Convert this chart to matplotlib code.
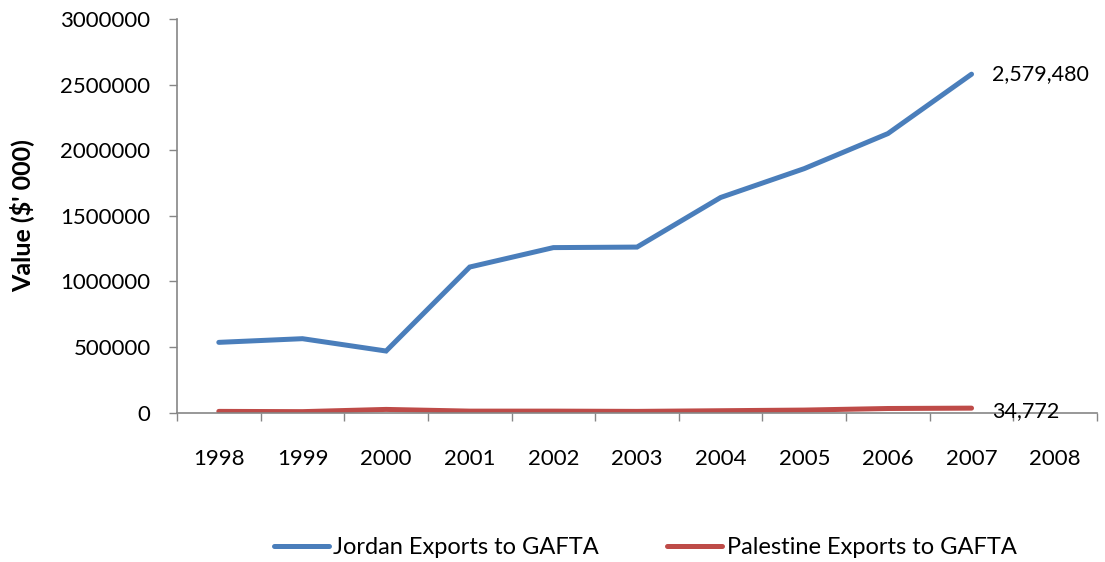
import matplotlib
matplotlib.use("Agg")
import matplotlib.pyplot as plt
import numpy as np

years = ["1998", "1999", "2000", "2001", "2002", "2003", "2004", "2005", "2006", "2007", "2008"]
jordan = [536000, 564000, 470000, 1110000, 1258000, 1262000, 1640000, 1860000, 2127000, 2579480]
palestine = [10000, 8000, 25000, 12000, 12000, 10000, 15000, 20000, 32000, 34772]
jordan_label = "Jordan Exports to GAFTA"
palestine_label = "Palestine Exports to GAFTA"
y_ticks = [0, 500000, 1000000, 1500000, 2000000, 2500000, 3000000]

plt.rcParams['font.family'] = ['Lato', 'DejaVu Sans']

fig = plt.figure(figsize=(11.05, 5.62), dpi=100)
ax = fig.add_axes([177/1105, 1 - 412.7/562, 920/1105, (412.7 - 19)/562])

axis_color = "#868686"
blue = "#4A7EBB"
red = "#BE4B48"

x_j = np.arange(len(jordan))
x_p = np.arange(len(palestine))
l1, = ax.plot(x_j, jordan, color=blue, lw=3.6, solid_capstyle='round', solid_joinstyle='miter', label=jordan_label)
l2, = ax.plot(x_p, palestine, color=red, lw=3.6, solid_capstyle='round', solid_joinstyle='miter', label=palestine_label)

ax.set_xlim(-0.5, len(years) - 0.5)
ax.set_ylim(0, 3000000)

ax.set_xticks(np.arange(len(years)))
ax.set_xticklabels(years, fontsize=16)
ax.set_xticks(np.arange(len(years) + 1) - 0.5, minor=True)
ax.tick_params(axis='x', which='major', length=0, pad=26)
ax.tick_params(axis='x', which='minor', length=6, width=1, color=axis_color, direction='out')

ax.set_yticks(y_ticks)
ax.set_yticklabels([str(v) for v in y_ticks], fontsize=16)
ax.tick_params(axis='y', length=6, width=1, color=axis_color, pad=13)

for s in ['top', 'right']:
    ax.spines[s].set_visible(False)
for s in ['left', 'bottom']:
    ax.spines[s].set_color(axis_color)
    ax.spines[s].set_linewidth(1.2)

ax.set_ylabel("Value ($' 000)", fontsize=18, fontweight='bold')
ax.yaxis.set_label_coords(-0.1555, 0.5)

ax.annotate(f"{jordan[-1]:,}", xy=(x_j[-1], jordan[-1]), xytext=(15, 0),
            textcoords='offset points', va='center', ha='left', fontsize=15.5)
ax.annotate(f"{palestine[-1]:,}", xy=(x_p[-1], palestine[-1]), xytext=(15, -2),
            textcoords='offset points', va='center', ha='left', fontsize=15.5)

fig.legend(handles=[l1, l2], loc='center', bbox_to_anchor=(0.584, 0.025), ncol=2,
           frameon=False, fontsize=17, handlelength=2.3, handletextpad=0.2,
           columnspacing=2.9)

fig.savefig("out.png", dpi=100)
